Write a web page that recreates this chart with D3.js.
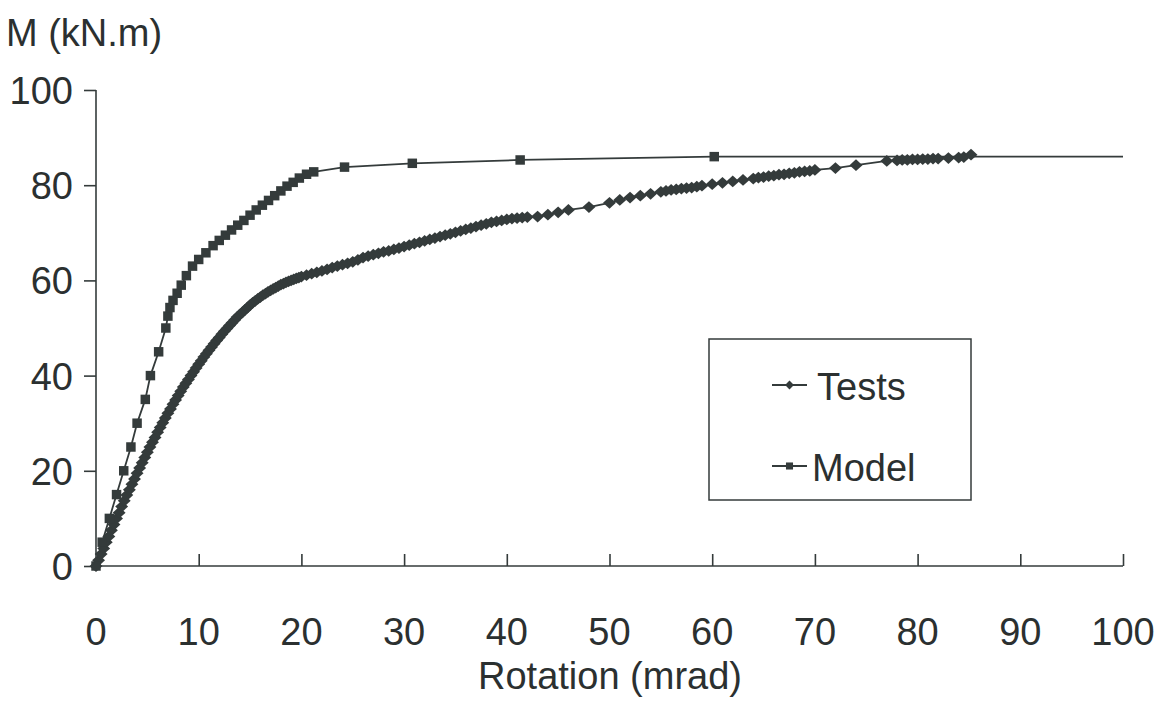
<!DOCTYPE html>
<html>
<head>
<meta charset="utf-8">
<script src="https://cdn.jsdelivr.net/npm/d3@7"></script>
<style>
  html, body { margin: 0; padding: 0; background: #ffffff; }
  svg { display: block; }
  text { font-family: "Liberation Sans", Arial, Helvetica, sans-serif; fill: #2b3030; }
</style>
</head>
<body>
<svg id="chart" width="1164" height="702"></svg>
<script>
// Moment–rotation curves: measured (Tests) and predicted (Model)
const testsRotation = [
  0,0.25,0.5,0.75,1,1.25,1.5,1.75,2,2.25,2.5,2.75,3,3.25,3.5,3.75,4,4.25,4.5,4.75,
  5,5.25,5.5,5.75,6,6.25,6.5,6.75,7,7.25,7.5,7.75,8,8.25,8.5,8.75,9,9.25,9.5,9.75,
  10,10.25,10.5,10.75,11,11.25,11.5,11.75,12,12.25,12.5,12.75,13,13.25,13.5,13.75,14,14.25,14.5,14.75,
  15,15.25,15.5,15.75,16,16.25,16.5,16.75,17,17.25,17.5,17.75,18,18.25,18.5,18.75,19,19.25,19.5,19.75,
  20,20.5,21,21.5,22,22.5,23,23.5,24,24.5,25,25.5,26,26.5,27,27.5,28,28.5,29,29.5,
  30,30.5,31,31.5,32,32.5,33,33.5,34,34.5,35,35.5,36,36.5,37,37.5,38,38.5,39,39.5,
  40,40.5,41,41.5,42,43,44,45,46,48,50,51,52,53,54,55,55.5,56,56.5,57,57.5,58,58.5,59,
  60,61,62,63,64,64.5,65,65.5,66,66.5,67,67.5,68,68.5,69,69.5,70,72,74,77,
  78,78.5,79,79.5,80,80.5,81,81.5,82,83,84,84.5,85.2];
const testsMoment = [
  0,1.2,2.5,3.7,5,6.2,7.5,8.7,10,11.2,12.5,13.7,14.9,16,17.2,18.3,19.5,20.6,21.7,22.8,
  23.9,25,26,27,28.1,29.1,30.1,31.1,32.1,33,34,34.9,35.8,36.7,37.6,38.4,39.2,40,40.8,41.6,
  42.4,43.1,43.9,44.6,45.3,46,46.7,47.4,48,48.7,49.3,49.9,50.5,51.1,51.7,52.3,52.8,53.3,53.8,54.3,
  54.8,55.3,55.7,56.1,56.5,56.9,57.2,57.6,57.9,58.2,58.5,58.8,59.1,59.3,59.6,59.8,60,60.2,60.4,60.6,
  60.8,61.1,61.4,61.7,62,62.3,62.7,63,63.3,63.6,63.9,64.3,64.8,65.1,65.4,65.7,66,66.2,66.5,66.8,
  67.1,67.4,67.7,68,68.3,68.6,68.9,69.2,69.5,69.8,70.1,70.4,70.7,71,71.3,71.6,71.9,72.2,72.4,72.6,
  72.8,73,73.1,73.2,73.3,73.4,73.8,74.3,74.8,75.4,76.3,76.9,77.4,77.8,78.2,78.6,78.8,79,79.1,79.3,79.4,79.5,79.7,79.9,
  80.2,80.5,80.8,81.1,81.4,81.6,81.7,81.9,82,82.2,82.3,82.5,82.6,82.8,82.9,83,83.2,83.6,84.2,85.1,
  85.2,85.3,85.3,85.4,85.4,85.5,85.5,85.6,85.6,85.7,85.8,85.9,86.4];

const modelRotation = [0,0.6,1.3,2,2.7,3.4,4,4.8,5.3,6.1,6.8,7,7.2,7.5,7.9,8.3,8.8,9.4,10,10.7,11.4,12,12.6,13.2,13.8,14.4,15,15.6,16.2,16.8,17.4,18,18.6,19.2,19.8,20.5,21.2,24.2,30.8,41.3,60.2];
const modelMoment = [0,5,10,15,20,25,30,35,40,45,50,52.5,54.3,55.8,57.3,59,61,63,64.4,65.8,67.3,68.4,69.5,70.6,71.6,72.6,73.7,74.8,75.8,76.8,77.8,78.8,79.8,80.6,81.5,82.3,82.8,83.8,84.6,85.3,86];
// the model curve runs on to the end of the rotation axis
const modelEnd = [100, 86];

const xTicks = [0,10,20,30,40,50,60,70,80,90,100];
const yTicks = [0,20,40,60,80,100];

const seriesNames = ["Tests", "Model"];
const yTitle = "M (kN.m)";
const xTitle = "Rotation (mrad)";

const ink = "#343b3b";
const fontSize = 38;

const svg = d3.select("#chart");
const x = d3.scaleLinear().domain([0, 100]).range([96, 1123]);
const y = d3.scaleLinear().domain([0, 100]).range([566, 90]);

// axes
const yAxis = svg.append("g")
  .attr("transform", `translate(${x(0)},0)`)
  .call(d3.axisLeft(y).tickValues(yTicks).tickSize(12).tickFormat(""));
const xAxis = svg.append("g")
  .attr("transform", `translate(0,${y(0)})`)
  .call(d3.axisTop(x).tickValues(xTicks.slice(1)).tickSize(12).tickFormat(""));
[yAxis, xAxis].forEach(g => {
  g.select(".domain").attr("stroke", ink).attr("stroke-width", 1.6);
  g.selectAll(".tick line").attr("stroke", ink).attr("stroke-width", 1.6);
});
// plain axis lines without the outer end ticks
yAxis.select(".domain").attr("d", `M0,${y(100)}V${y(0)}`);
xAxis.select(".domain").attr("d", `M${x(0)},0H${x(100)}`);

// tick labels
svg.append("g").selectAll("text").data(yTicks).join("text")
  .attr("x", 73).attr("y", d => y(d) + 14)
  .attr("text-anchor", "end").attr("font-size", fontSize).text(d => d);
svg.append("g").selectAll("text").data(xTicks).join("text")
  .attr("x", d => x(d)).attr("y", 645)
  .attr("text-anchor", "middle").attr("font-size", fontSize).text(d => d);

// titles
svg.append("text").attr("x", 6).attr("y", 46)
  .attr("font-size", 38).text(yTitle);
svg.append("text").attr("x", 610).attr("y", 689)
  .attr("text-anchor", "middle").attr("font-size", fontSize).text(xTitle);

// series
const tests = testsRotation.map((r, i) => [r, testsMoment[i]]);
const model = modelRotation.map((r, i) => [r, modelMoment[i]]);
const line = d3.line().x(d => x(d[0])).y(d => y(d[1]));

svg.append("path").datum(model.concat([modelEnd]))
  .attr("d", line).attr("fill", "none").attr("stroke", ink).attr("stroke-width", 1.8);
svg.append("path").datum(tests)
  .attr("d", line).attr("fill", "none").attr("stroke", ink).attr("stroke-width", 1.8);

const diamond = d3.symbol().type(d3.symbolDiamond2);
const square = d3.symbol().type(d3.symbolSquare);

svg.append("g").selectAll("path").data(tests).join("path")
  .attr("d", diamond.size(88)())
  .attr("transform", d => `translate(${x(d[0])},${y(d[1])}) scale(1.1,1)`)
  .attr("fill", ink);
svg.append("g").selectAll("path").data(model).join("path")
  .attr("d", square.size(90)())
  .attr("transform", d => `translate(${x(d[0])},${y(d[1])})`)
  .attr("fill", ink);

// legend
const lg = svg.append("g");
lg.append("rect").attr("x", 709).attr("y", 339).attr("width", 262).attr("height", 161)
  .attr("fill", "#fff").attr("stroke", ink).attr("stroke-width", 1.5);
const rows = [{ name: seriesNames[0], y: 385, tx: 817, sym: diamond.size(50)() },
              { name: seriesNames[1], y: 466, tx: 812, sym: square.size(50)() }];
rows.forEach(r => {
  lg.append("line").attr("x1", 772).attr("x2", 807).attr("y1", r.y).attr("y2", r.y)
    .attr("stroke", ink).attr("stroke-width", 1.8);
  lg.append("path").attr("d", r.sym).attr("transform", `translate(789.5,${r.y})`).attr("fill", ink);
  lg.append("text").attr("x", r.tx).attr("y", r.y + 15)
    .attr("font-size", fontSize).text(r.name);
});
</script>
</body>
</html>
